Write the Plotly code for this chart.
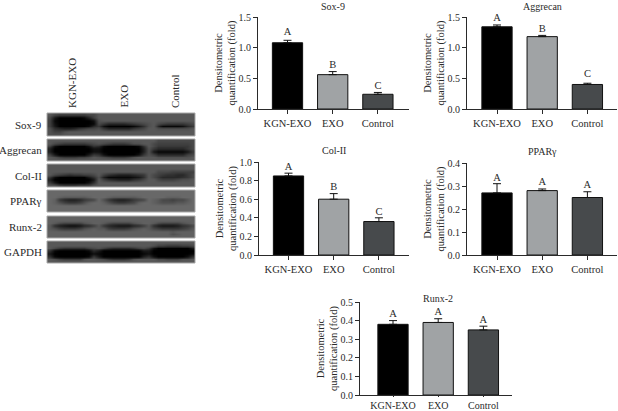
import plotly.graph_objects as go

W, H = 618, 411
categories = ["KGN-EXO", "EXO", "Control"]
bar_colors = ["#000000", "#a0a3a5", "#474a4c"]
FONT = "Liberation Serif"
INK = "#2a2a2a"

titles = ["Sox-9", "Aggrecan", "Col-II", "PPARγ", "Runx-2"]
sox9 = [1.08, 0.56, 0.24]
sox9_err = [0.04, 0.05, 0.03]
aggrecan = [1.34, 1.18, 0.40]
aggrecan_err = [0.03, 0.02, 0.02]
col2 = [0.85, 0.60, 0.36]
col2_err = [0.03, 0.06, 0.04]
ppar = [0.27, 0.28, 0.25]
ppar_err = [0.04, 0.007, 0.025]
runx2 = [0.38, 0.39, 0.35]
runx2_err = [0.02, 0.02, 0.02]
letters_sox9 = ["A", "B", "C"]
letters_aggrecan = ["A", "B", "C"]
letters_col2 = ["A", "B", "C"]
letters_ppar = ["A", "A", "A"]
letters_runx2 = ["A", "A", "A"]
letter_y_sox9 = [1.255, 0.717, 0.375]
letter_y_aggrecan = [1.484, 1.304, 0.57]
letter_y_col2 = [0.946, 0.731, 0.462]
letter_y_ppar = [0.335, 0.317, 0.304]
letter_y_runx2 = [0.435, 0.446, 0.403]
ymax = [1.5, 1.5, 1.0, 0.4, 0.5]
dticks = [0.5, 0.5, 0.2, 0.1, 0.1]

# pixel frames: left, right, top, bottom, centre of first bar, bar spacing, title y
frames = [
    (258, 409, 17, 109, 287.5, 45.2, 7),
    (467, 617, 17, 109, 497, 45.2, 7),
    (259, 409, 162, 255, 288.5, 45.2, 150),
    (467, 617, 163, 255, 497, 45.2, 151),
    (360, 512, 302, 395, 393, 45.2, 298),
]
series = [
    (sox9, sox9_err, letters_sox9, letter_y_sox9),
    (aggrecan, aggrecan_err, letters_aggrecan, letter_y_aggrecan),
    (col2, col2_err, letters_col2, letter_y_col2),
    (ppar, ppar_err, letters_ppar, letter_y_ppar),
    (runx2, runx2_err, letters_runx2, letter_y_runx2),
]

fig = go.Figure()
layout = dict(
    width=W, height=H, margin=dict(l=0, r=0, t=0, b=0, autoexpand=False),
    paper_bgcolor="white", plot_bgcolor="rgba(0,0,0,0)", showlegend=False,
    font=dict(family=FONT, size=10, color=INK),
)
annotations = []

for i, ((vals, errs, letters, ly), fr) in enumerate(zip(series, frames)):
    l, r, t, b, c0, sp, ty = fr
    n = i + 1
    xa, ya = f"x{n}", f"y{n}"
    fig.add_trace(go.Bar(
        x=[0, 1, 2], y=vals, xaxis=xa, yaxis=ya, width=0.67,
        marker=dict(color=bar_colors, line=dict(color="#111111", width=1)),
        error_y=dict(type="data", symmetric=False, array=errs, arrayminus=[0, 0, 0],
                     color="#111111", thickness=1, width=4),
    ))
    fig.add_trace(go.Scatter(
        x=[0, 1, 2], y=ly, xaxis=xa, yaxis=ya,
        mode="text", text=letters, textposition="middle center",
        textfont=dict(family=FONT, size=10.5, color=INK), cliponaxis=False,
    ))
    layout[f"xaxis{n}"] = dict(
        domain=[l / W, r / W], range=[(l - c0) / sp, (r - c0) / sp], anchor=ya,
        tickmode="array", tickvals=[0, 1, 2], ticktext=categories,
        ticks="outside", ticklen=1 if i == 4 else 4, tickwidth=1, tickcolor=INK,
        showline=True, linecolor=INK, linewidth=1, showgrid=False, zeroline=False,
        tickfont=dict(family=FONT, size=10 if i == 4 else 10.5, color=INK),
    )
    layout[f"yaxis{n}"] = dict(
        domain=[1 - b / H, 1 - t / H], range=[0, ymax[i]], anchor=xa,
        dtick=dticks[i], tickformat=".1f",
        ticks="outside", ticklen=4, tickwidth=1, tickcolor=INK,
        showline=True, linecolor=INK, linewidth=1, showgrid=False, zeroline=False,
        tickfont=dict(family=FONT, size=10, color=INK),
        title=dict(text="Densitometric<br>quantification (fold)",
                   font=dict(family=FONT, size=10.5, color=INK), standoff=0),
    )
    annotations.append(dict(
        text=titles[i], xref="paper", yref="paper", x=(c0 + sp) / W, y=1 - ty / H,
        xanchor="center", yanchor="middle", showarrow=False,
        font=dict(family=FONT, size=10, color=INK),
    ))

# ---- western blot panel: hand-read grey levels, one hex digit per cell (value x 8) ----
lane_labels = ["KGN-EXO", "EXO", "Control"]
lane_label_x = [72, 123, 175]
blot_labels = ["Sox-9", "Aggrecan", "Col-II", "PPARγ", "Runx-2", "GAPDH"]
sox9_blot = [
    "b988888899 bbbbbbbbbb bbbbbbbbbb",
    "9300000148 bbbbbbbbbb bbbbbbbbbb",
    "8100000002 abbbbbbbbb bbbbbbbbbb",
    "8200000001 9755556789 ab98777789",
    "8300000015 7200000136 ab51111257",
    "a654457899 a755555789 bbaaaaaaab",
    "a88abbbbbb bbbbbbbbbb bbbbbbbbbb",
    "aaabbbbbbb bbbbbbbbbb bbbbbbbbbb",
]
aggrecan_blot = [
    "bbbbbbbbbb bbbbbbbbbb bb99999999",
    "b987777789 a987778aab b988888889",
    "8200000026 5100000016 b977777779",
    "4000000002 2000000004 a755555579",
    "4000000002 2000000004 a311111137",
    "8300000037 6200000027 a855555589",
    "ba8777889b a987778abb bbaaaaaaab",
    "bbbbbbbbbb bbbbbbbbbb bbbbbbbbbb",
]
col2_blot = [
    "bbbbbbbbbb bbbbbbbbbb bbbbbbbbbb",
    "bbbbbbbbbb bbbbbbbbbb bbbbbbbbbb",
    "bbbbbbbbbb bbbbbbbbbb bb99988888",
    "b987677889 b865444567 b987665579",
    "7200000036 a411111236 b975555679",
    "4000000003 b865444679 bb98889aab",
    "7300000026 bbbbbbbbbb bbbbbbbbbb",
    "bb9888999b bbbbbbbbbb bbbbbbbbbb",
]
ppar_blot = [
    "dddddddddd dddddddddd dddddddddd",
    "dddddddddd dddddddddd dddddddddd",
    "ddcbbbbbcd ddcbbbbbcd ddddcccddd",
    "dc75445789 da75445789 dcb99899bd",
    "dca8778acd dca87789cd dcbaaabbcd",
    "dddddddddd dddddddddd dddddddddd",
    "dddddddddd dddddddddd dddddddddd",
    "dddddddddd dddddddddd dddddddddd",
]
runx2_blot = [
    "cccccccccc cccccccccc cccccccccc",
    "cccccccccc cccccccccc cccccccccc",
    "cb98888abc cb98888abc cb98888abc",
    "b643223568 b754333568 b643334679",
    "ba87778abc bb87778abc b98777789b",
    "cccccccccc cccccccccc cccccbcccc",
    "cccccccccc cccccccccc cccccabccc",
    "cccccccccc cccccccccc cccccccccc",
]
gapdh_blot = [
    "bbbbbbbbbb bbbbbbbbbb bbbbbbbbbb",
    "bbbbbbbbbb bbbbbbbbbb ba88777889",
    "b976666689 a865555689 7200000003",
    "6100000015 3000000003 3000000000",
    "3000000002 1000000001 2000000001",
    "6100000017 3000000004 6200000026",
    "ba87777abb a976667abb bb99888aab",
    "bbbbbbbbbb bbbbbbbbbb bbbbbbbbbb",
]
blots = [sox9_blot, aggrecan_blot, col2_blot, ppar_blot, runx2_blot, gapdh_blot]
strip_y = [(113, 136), (139, 161), (164, 187), (190, 212), (216, 238), (241, 263)]
BL, BR = 47, 195


def decode(rows):
    return [[int(c, 16) * 8 for c in r.replace(" ", "")] for r in rows]


for rows, (yt, yb) in zip(blots, strip_y):
    z = decode(rows)
    nr, nc = len(z), len(z[0])
    fig.add_trace(go.Heatmap(
        z=z, x0=BL + (BR - BL) / nc / 2, dx=(BR - BL) / nc,
        y0=yt + (yb - yt) / nr / 2, dy=(yb - yt) / nr,
        zmin=0, zmax=255, zsmooth="best", showscale=False, hoverinfo="skip",
        colorscale=[[0, "#000000"], [1, "#ffffff"]],
        xaxis="x6", yaxis="y6",
    ))
layout["xaxis6"] = dict(domain=[0, 1], range=[0, W], visible=False, anchor="y6")
layout["yaxis6"] = dict(domain=[0, 1], range=[H, 0], visible=False, anchor="x6")

shapes = [dict(type="rect", xref="x6", yref="y6", x0=BL, x1=BR, y0=yt, y1=yb,
               line=dict(width=1, color="#a8a8a8"), fillcolor="rgba(0,0,0,0)", layer="above")
          for yt, yb in strip_y]

for name, (yt, yb) in zip(blot_labels, strip_y):
    annotations.append(dict(text=name, xref="paper", yref="paper", x=43.5 / W,
                            y=1 - (yt + yb) / 2 / H, xanchor="right", yanchor="middle",
                            showarrow=False, font=dict(family=FONT, size=11, color=INK)))
for name, x in zip(lane_labels, lane_label_x):
    annotations.append(dict(text=name, xref="paper", yref="paper", x=x / W, y=1 - 110 / H,
                            xanchor="center", yanchor="bottom", textangle=-90, showarrow=False,
                            font=dict(family=FONT, size=11, color=INK)))

layout["annotations"] = annotations
layout["shapes"] = shapes
fig.update_layout(**layout)
fig.write_html("out.html", config={"displayModeBar": False},
               post_script="document.body.style.margin='0';")
